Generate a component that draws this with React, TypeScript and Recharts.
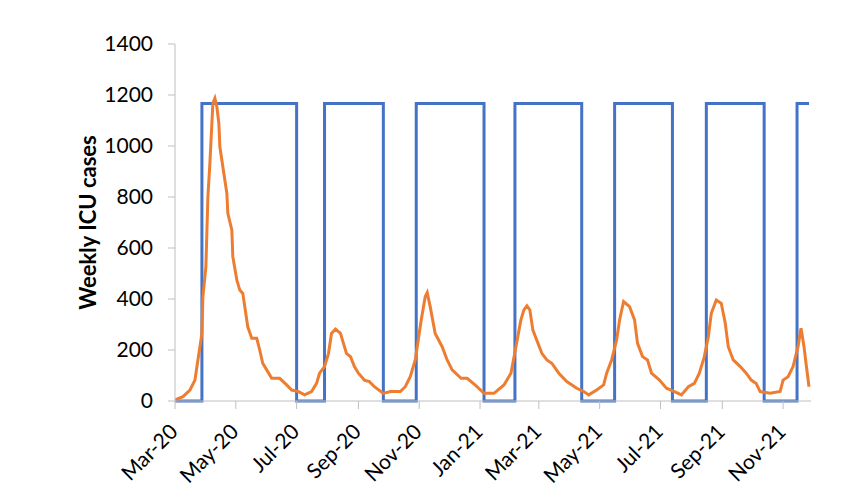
import React from 'react';
import { LineChart, Line, XAxis, YAxis } from 'recharts';

// Days since 1 Mar 2020
const tickDays = [0, 61, 122, 184, 245, 306, 365, 426, 487, 549, 610];
const tickLabels = ['Mar-20', 'May-20', 'Jul-20', 'Sep-20', 'Nov-20', 'Jan-21', 'Mar-21', 'May-21', 'Jul-21', 'Sep-21', 'Nov-21'];
const yTicks = [0, 200, 400, 600, 800, 1000, 1200, 1400];

// Blue step series (switch days and level after switch)
const switchDays = [0, 27, 122, 150, 209, 242, 310, 341, 408, 441, 499, 533, 591, 624, 636];
const switchLevels = [0, 1167, 0, 1167, 0, 1167, 0, 1167, 0, 1167, 0, 1167, 0, 1167, 1167];

// Orange series: weekly ICU cases
const icuDays = [
  0, 8, 15, 20, 23, 27, 28, 31, 33, 35, 37, 38, 40, 42, 44, 45, 48, 52, 53, 57, 58, 62, 65, 68, 71, 73, 77, 82, 85, 88,
  92, 97, 105, 112, 117, 124, 130, 137, 142, 145, 150, 154, 157, 161, 166, 172, 176, 180, 184, 190, 195, 200, 209, 216, 226,
  231, 236, 241, 244, 247, 251, 253, 256, 261, 268, 273, 278, 287, 293, 301, 310, 320, 330, 337, 342, 347, 350, 353, 356,
  359, 368, 373, 378, 385, 393, 403, 410, 415, 423, 430, 433, 438, 443, 446, 450, 456, 461, 464, 469, 474, 478, 486, 493,
  501, 508, 515, 521, 526, 531, 535, 538, 543, 548, 552, 555, 560, 567, 573, 578, 583, 587, 597, 607, 610, 615, 620, 625,
  628, 631, 633, 636,
];
const icuValues = [
  4, 17, 43, 82, 161, 265, 409, 527, 801, 932, 1089, 1167, 1187, 1154, 1089, 997, 919, 815, 736, 671, 566, 475, 435, 422, 344, 291, 246, 246, 200, 148,
  122, 89, 89, 63, 43, 37, 24, 37, 69, 109, 135, 187, 265, 282, 265, 187, 174, 135, 109, 82, 76, 56, 30, 37, 37,
  56, 95, 161, 239, 318, 409, 425, 370, 265, 213, 161, 122, 89, 89, 63, 30, 30, 63, 109, 213, 318, 357, 373, 357,
  278, 187, 161, 148, 109, 76, 50, 37, 24, 43, 63, 109, 161, 239, 318, 390, 370, 318, 226, 174, 161, 109, 82, 50,
  37, 24, 56, 69, 109, 174, 252, 344, 396, 383, 305, 213, 161, 135, 109, 82, 69, 37, 30, 37, 82, 95, 135, 213,
  285, 213, 148, 56,
];

const policyData = switchDays.map((d, i) => ({ day: d, value: switchLevels[i] }));
const icuData = icuDays.map((d, i) => ({ day: d, value: icuValues[i] }));

const FONT = 'Lato, "Liberation Sans", sans-serif';

const XTick = (props: any) => {
  const { x, y, payload } = props;
  const idx = tickDays.indexOf(payload.value);
  const label = idx >= 0 ? tickLabels[idx] : '';
  const ax = x + 4;
  const ay = y + 22;
  return (
    <text
      x={ax}
      y={ay}
      textAnchor="end"
      transform={`rotate(-45 ${ax} ${ay})`}
      fontFamily={FONT}
      fontSize={21}
      fill="#000"
    >
      {label}
    </text>
  );
};

const YLabel = (props: any) => {
  const vb = props.viewBox || { x: 20, y: 36, width: 147, height: 357 };
  const cx = vb.x + 59;
  const cy = vb.y + vb.height / 2;
  return (
    <text
      x={cx}
      y={cy}
      transform={`rotate(-90 ${cx} ${cy})`}
      textAnchor="middle"
      dominantBaseline="central"
      fontFamily={FONT}
      fontWeight="bold"
      fontSize={22}
      fill="#000"
    >
      Weekly ICU cases
    </text>
  );
};

export default function App() {
  return (
    <div style={{ width: 840, height: 483, background: '#fff' }}>
      <LineChart width={840} height={483} margin={{ top: 36, right: 37, bottom: 30, left: 20 }}>
        <XAxis
          type="number"
          dataKey="day"
          domain={[0, 638]}
          ticks={tickDays}
          tick={<XTick />}
          height={60}
          stroke="#bfbfbf"
          tickSize={8}
          tickMargin={2}
          interval={0}
          allowDataOverflow
        />
        <YAxis
          type="number"
          domain={[0, 1400]}
          ticks={yTicks}
          width={147}
          stroke="#bfbfbf"
          tickSize={7}
          tickMargin={15}
          interval={0}
          tick={{ fill: '#000', fontSize: 21, fontFamily: FONT }}
          label={{ content: <YLabel /> } as any}
        />
        <Line
          data={policyData}
          dataKey="value"
          type="stepAfter"
          stroke="#4472C4"
          strokeWidth={3}
          dot={false}
          isAnimationActive={false}
        />
        <Line
          data={icuData}
          dataKey="value"
          type="linear"
          stroke="#ED7D31"
          strokeWidth={3}
          dot={false}
          isAnimationActive={false}
        />
      </LineChart>
    </div>
  );
}
